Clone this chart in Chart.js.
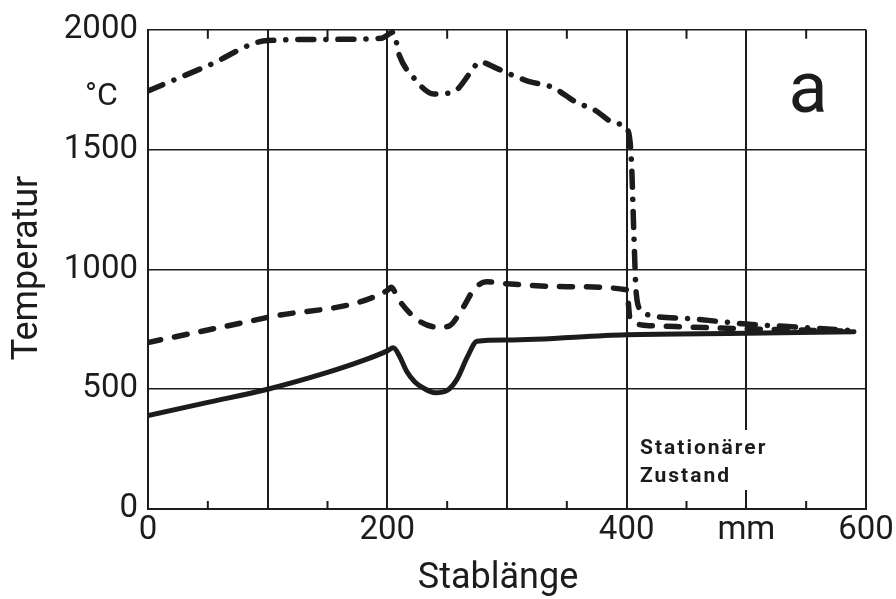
<!DOCTYPE html>
<html>
<head>
<meta charset="utf-8">
<title>Temperatur / Stablänge</title>
<script src="https://cdn.jsdelivr.net/npm/chart.js@4/dist/chart.umd.min.js"></script>
<style>
  html, body { margin: 0; padding: 0; background: #fff; }
  #wrap { width: 896px; height: 599px; position: relative; }
</style>
</head>
<body>
<div id="wrap"><canvas id="chart" width="896" height="599"></canvas></div>
<script>
// values (x in mm, y in °C)
const solidX = [0, 50, 100, 150, 180, 200, 205, 210, 216, 223, 230, 240, 250, 258, 267, 275, 300, 400, 500, 590];
const solidY = [390, 445, 500, 570, 620, 660, 673, 640, 576, 530, 505, 485, 495, 540, 636, 700, 705, 727, 733, 740];

const dashedX = [0, 100, 200, 203, 210, 225, 243, 252, 262, 273, 283, 300, 350, 400, 403, 420, 500, 590];
const dashedY = [695, 800, 912, 925, 870, 790, 758, 765, 830, 920, 948, 940, 928, 915, 790, 765, 752, 742];

const dashDotX = [0, 50, 100, 150, 195, 205, 210, 222, 239, 255, 270, 277, 291, 300, 318, 338, 357, 374, 390, 401, 404, 406, 408, 412, 420, 450, 500, 550, 588];
const dashDotY = [1745, 1850, 1955, 1960, 1965, 1990, 1894, 1800, 1732, 1740, 1825, 1866, 1840, 1820, 1785, 1760, 1700, 1663, 1610, 1580, 1450, 1150, 900, 830, 808, 795, 772, 757, 745];

const yTicks = [0, 500, 1000, 1500, 2000];
const xTickLabels = { 0: "0", 200: "200", 400: "400", 500: "mm", 600: "600" };
const minorTicks = [50, 150, 250, 350, 450, 550];

const INK = "#1c1c1c";
const FONT = "Roboto, 'Liberation Sans', sans-serif";

function zip(xs, ys) {
  return xs.map((x, i) => ({ x: x, y: ys[i] }));
}

// extra drawing: frame ticks, labels inside the plot, axis titles
const decorations = {
  id: "decorations",
  afterDraw(chart) {
    const ctx = chart.ctx;
    const xs = chart.scales.x;
    const area = chart.chartArea;
    ctx.save();
    ctx.strokeStyle = INK;
    ctx.lineWidth = 2;
    minorTicks.forEach(v => {
      const px = xs.getPixelForValue(v);
      ctx.beginPath();
      ctx.moveTo(px, area.bottom);
      ctx.lineTo(px, area.bottom - 8);
      ctx.moveTo(px, area.top);
      ctx.lineTo(px, area.top + 9);
      ctx.stroke();
    });

    // gap in the 500 mm line for the note
    const p500 = xs.getPixelForValue(500);
    ctx.fillStyle = "#fff";
    ctx.fillRect(p500 - 3, 430, 6, 60);

    ctx.fillStyle = INK;
    ctx.textBaseline = "alphabetic";
    ctx.textAlign = "left";
    ctx.font = "bold 21px " + FONT;
    ctx.letterSpacing = "2px";
    ctx.fillText("Stationärer", 640, 454);
    ctx.fillText("Zustand", 640, 482);
    ctx.letterSpacing = "0px";

    ctx.font = "32px " + FONT;
    ctx.fillText("°C", 85, 105);

    ctx.font = "72px " + FONT;
    ctx.textAlign = "center";
    ctx.fillText("a", 808, 112);

    ctx.font = "36px " + FONT;
    ctx.fillText("Stablänge", 498, 588);

    ctx.translate(37, 268);
    ctx.rotate(-Math.PI / 2);
    ctx.fillText("Temperatur", 0, 0);
    ctx.restore();
  }
};

const lineBase = {
  borderColor: INK,
  pointRadius: 0,
  fill: false,
  cubicInterpolationMode: "monotone",
  borderCapStyle: "round",
  borderJoinStyle: "round"
};

new Chart(document.getElementById("chart"), {
  type: "line",
  data: {
    datasets: [
      Object.assign({}, lineBase, { label: "solid", data: zip(solidX, solidY), borderWidth: 5 }),
      Object.assign({}, lineBase, { label: "dashed", data: zip(dashedX, dashedY), borderWidth: 5.5, borderDash: [13, 14] }),
      Object.assign({}, lineBase, { label: "dashdot", data: zip(dashDotX, dashDotY), borderWidth: 5.5, borderDash: [16, 12, 0.1, 12] })
    ]
  },
  options: {
    responsive: false,
    animation: false,
    layout: { padding: { top: 28, right: 30, left: 0, bottom: 0 } },
    plugins: { legend: { display: false }, tooltip: { enabled: false } },
    scales: {
      x: {
        type: "linear",
        min: 0,
        max: 600,
        afterFit(scale) { scale.height = 90; },
        afterBuildTicks(scale) {
          scale.ticks = [0, 100, 200, 300, 400, 500, 600].map(v => ({ value: v }));
        },
        ticks: {
          color: INK,
          font: { family: FONT, size: 33 },
          padding: 2,
          maxRotation: 0,
          autoSkip: false,
          callback: v => (xTickLabels[v] !== undefined ? xTickLabels[v] : "")
        },
        grid: { color: INK, lineWidth: 2, drawTicks: false },
        border: { color: INK, width: 2 }
      },
      y: {
        type: "linear",
        min: 0,
        max: 2000,
        afterFit(scale) { scale.width = 148; },
        afterBuildTicks(scale) {
          scale.ticks = yTicks.map(v => ({ value: v }));
        },
        ticks: {
          color: INK,
          font: { family: FONT, size: 33 },
          padding: 10,
          callback: v => String(v)
        },
        grid: { color: INK, lineWidth: 1.5, drawTicks: false },
        border: { color: INK, width: 2 }
      }
    }
  },
  plugins: [decorations]
});
</script>
</body>
</html>
